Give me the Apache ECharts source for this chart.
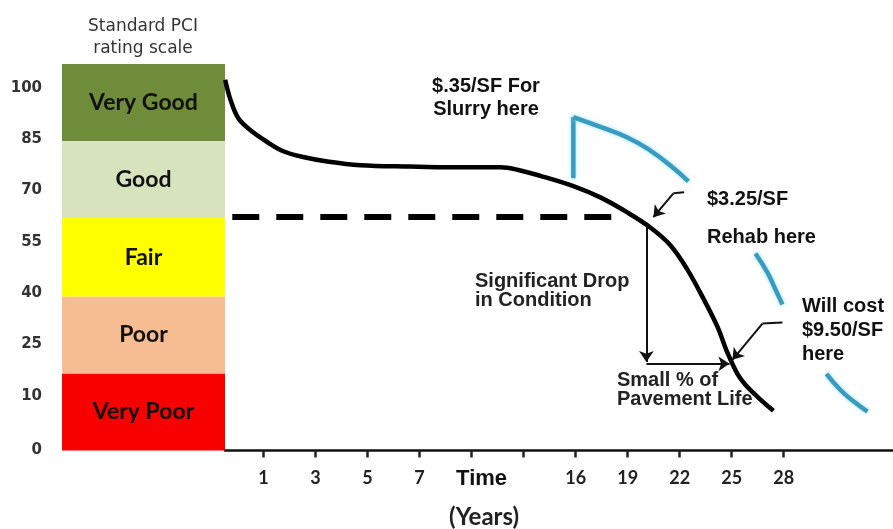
<!DOCTYPE html>
<html><head><meta charset="utf-8">
<script src="https://cdn.jsdelivr.net/npm/echarts@6/dist/echarts.min.js"></script>
<style>html,body{margin:0;padding:0;background:#fff}#c{width:893px;height:529px}</style>
</head><body><div id="c"></div>
<script>
// ---- data (axis units: x = tick index, y = PCI label scale) ----
const xTickIndex = [0,1,2,3,4,5,6,7,8,9,10];
const xTickLabels = ['1','3','5','7','Time','','16','19','22','25','28'];
const yTickValues = [-6,10,25,40,55,70,85,100];
const yTickLabels = ['0','10','25','40','55','70','85','100'];
const ratingNames  = ['Very Poor','Poor','Fair','Good','Very Good'];
const ratingBounds = [-6,16.5,39,62,84.5,107];
const ratingColors = ['#f90000','#f7bd92','#ffff00','#d6e3bd','#6f8c3b'];

const curveX = [-0.737,-0.640,-0.487,-0.256,0.071,0.379,0.763,1.225,1.860,2.821,3.590,4.552,4.879,5.321,5.956,6.475,6.994,7.436,7.821,8.148,8.456,8.725,8.917,9.110,9.263,9.494,9.802];
const curveY = [102.4,96.8,91.2,87.7,84.2,81.5,79.8,78.5,77.4,77.0,76.8,76.8,76.1,74.3,71.3,68.0,63.6,59.2,54.0,46.9,38.4,30.2,22.6,16.4,13.2,9.7,5.6];

const rehabLevel = 62.3;
const rehabLineX = [-0.60, 6.76];

const slurryStemX = [5.956,5.956];
const slurryStemY = [73.6,91.5];
const blueArcX = [5.956,6.475,6.994,7.436,7.821,8.167,null,9.456,9.687,9.840,9.975,null,10.821,11.090,11.340,11.610];
const blueArcY = [91.5,88.6,85.5,81.7,77.3,72.7,null,51.6,46.0,41.1,36.7,null,16.4,11.7,8.4,5.4];

// arrows: [x1,y1,x2,y2,hasHead]
const arrows = [
  [8.085,69.5,7.879,69.2,0],
  [7.879,69.2,7.494,62.2,1],
  [7.360,59.5,7.360,19.9,1],
  [7.360,19.35,8.956,19.35,1],
  [9.975,31.4,9.590,31.1,0],
  [9.590,31.1,9.013,20.5,1]
];

// ---- chart ----
const chart = echarts.init(document.getElementById('c'), null, {renderer:'canvas'});
const annFont = 'bold 20px "Liberation Sans", Arial, sans-serif';
const zip = (a,b) => a.map((v,i) => [v, b[i]]);

const bandAreas = ratingNames.map((n,i) => [
  {name:n, yAxis:ratingBounds[i], itemStyle:{color:ratingColors[i], opacity:1}},
  {yAxis:ratingBounds[i+1]}
]);

const arrowLines = arrows.map(a => [
  {coord:[a[0],a[1]], symbol:'none'},
  {coord:[a[2],a[3]], symbol: a[4] ? 'arrow' : 'none', symbolSize: 11}
]);

chart.setOption({
  animation:false,
  backgroundColor:'#fff',
  grid:[
    {left:62, width:163, top:64, bottom:78.5},
    {left:225, right:0, top:64, bottom:78.5}
  ],
  xAxis:[
    {gridIndex:0, type:'value', min:0, max:1, show:false},
    {gridIndex:1, type:'value', min:-0.74, max:12.1,
     axisLine:{show:true, onZero:false, lineStyle:{color:'#111', width:2.5}},
     axisTick:{show:true, customValues:xTickIndex, length:7, lineStyle:{color:'#222', width:2.5}},
     splitLine:{show:false},
     axisLabel:{customValues:xTickIndex, margin:28, verticalAlign:'middle',
       color:'#222', fontFamily:'Lato, sans-serif', fontWeight:'bold', fontSize:18,
       formatter:v => { const s = xTickLabels[Math.round(v)] || ''; return s==='Time' ? '{t|Time}' : s; },
       rich:{t:{fontSize:22, fontWeight:'bold', fontFamily:'"Liberation Sans", Arial, sans-serif', color:'#111', padding:[0,0,0,20]}}
     }}
  ],
  yAxis:[
    {gridIndex:0, type:'value', min:-6, max:107,
     axisLine:{show:false}, axisTick:{show:false}, splitLine:{show:false},
     axisLabel:{customValues:yTickValues, margin:20, color:'#333', fontSize:15, fontWeight:'bold',
       fontFamily:'"DejaVu Sans", sans-serif',
       formatter:v => { const i = yTickValues.indexOf(v); return i>=0 ? yTickLabels[i] : ''; }}},
    {gridIndex:1, type:'value', min:-6, max:107, show:false}
  ],
  graphic:[
    {type:'text', x:143, y:38, style:{text:'Standard PCI\nrating scale', align:'center', verticalAlign:'middle', lineHeight:22, font:'17px "DejaVu Sans", sans-serif', fill:'#333'}},
    {type:'text', x:486, y:97.5, style:{text:'$.35/SF For\nSlurry here', align:'center', verticalAlign:'middle', lineHeight:23, font:annFont, fill:'#111'}},
    {type:'text', x:707, y:199, style:{text:'$3.25/SF', align:'left', verticalAlign:'middle', font:annFont, fill:'#111'}},
    {type:'text', x:707, y:237, style:{text:'Rehab here', align:'left', verticalAlign:'middle', font:annFont, fill:'#111'}},
    {type:'text', x:475, y:291, style:{text:'Significant Drop\nin Condition', align:'left', verticalAlign:'middle', lineHeight:19, font:'bold 20px "Liberation Sans", Arial, sans-serif', fill:'#222'}},
    {type:'text', x:617, y:390, style:{text:'Small % of\nPavement Life', align:'left', verticalAlign:'middle', lineHeight:19, font:'bold 20px "Liberation Sans", Arial, sans-serif', fill:'#222'}},
    {type:'text', x:802, y:330, style:{text:'Will cost\n$9.50/SF\nhere', align:'left', verticalAlign:'middle', lineHeight:24, font:annFont, fill:'#111'}},
    {type:'text', x:484, y:517, style:{text:'(Years)', align:'center', verticalAlign:'middle', font:'bold 24px Lato, sans-serif', fill:'#222'}}
  ],
  series:[
    {type:'line', xAxisIndex:0, yAxisIndex:0, data:[[0.5,50]], symbol:'none', lineStyle:{opacity:0}, silent:true,
     markArea:{silent:true, label:{show:true, position:'inside', color:'#111', fontSize:23, fontWeight:'bold', fontFamily:'Lato, sans-serif'},
       data:bandAreas}},
    {type:'line', xAxisIndex:1, yAxisIndex:1, data:zip(curveX,curveY), smooth:0.35, symbol:'none',
     lineStyle:{color:'#000', width:4.5}, z:5},
    {type:'line', xAxisIndex:1, yAxisIndex:1, data:rehabLineX.map(x=>[x,rehabLevel]), symbol:'none',
     lineStyle:{color:'#000', width:6, type:[27,17], cap:'butt'}, z:4},
    {type:'line', xAxisIndex:1, yAxisIndex:1, data:zip(slurryStemX,slurryStemY), symbol:'none',
     lineStyle:{color:'#3a9bc1', width:4.5, shadowColor:'rgba(120,215,250,0.7)', shadowBlur:4}, z:3},
    {type:'line', xAxisIndex:1, yAxisIndex:1, data:zip(blueArcX,blueArcY), smooth:true, connectNulls:false, symbol:'none',
     lineStyle:{color:'#3a9bc1', width:4.5, shadowColor:'rgba(120,215,250,0.7)', shadowBlur:4}, z:3},
    {type:'line', xAxisIndex:1, yAxisIndex:1, data:[[0,200]], symbol:'none', lineStyle:{opacity:0}, silent:true,
     markLine:{silent:true, symbol:['none','none'], label:{show:false},
       lineStyle:{color:'#111', width:2, type:'solid'}, data:arrowLines}}
  ]
});
</script>
</body></html>
